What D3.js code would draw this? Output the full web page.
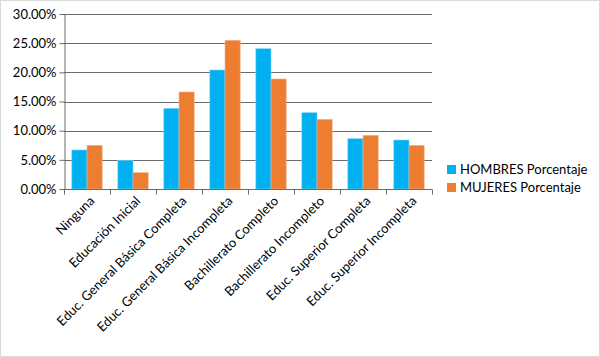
<!DOCTYPE html>
<html><head><meta charset="utf-8">
<script src="https://cdn.jsdelivr.net/npm/d3@7"></script>
<style>body{margin:0;background:#fff}svg{display:block}</style>
</head><body>
<script>
const categories = ["Ninguna","Educación Inicial","Educ. General Básica Completa","Educ. General Básica Incompleta","Bachillerato Completo","Bachillerato Incompleto","Educ. Superior Completa","Educ. Superior Incompleta"];
const hombres = [0.0669,0.0491,0.1383,0.2040,0.2405,0.1308,0.0863,0.0840];
const mujeres = [0.0749,0.0280,0.1663,0.2549,0.1886,0.1194,0.0920,0.0749];
const seriesNames = ["HOMBRES Porcentaje","MUJERES Porcentaje"];
const colors = ["#00B0F0","#ED7D31"];
const yTicks = [0,0.05,0.10,0.15,0.20,0.25,0.30];

const W=600,H=357;
const m={left:64,right:168,top:14,bottom:168};
const font="Lato, 'Open Sans', sans-serif";
const svg=d3.select("body").append("svg").attr("width",W).attr("height",H);
svg.append("rect").attr("x",0.5).attr("y",0.5).attr("width",W-1).attr("height",H-1).attr("fill","#fff").attr("stroke","#D9D9D9");

const x=d3.scaleBand().domain(categories).range([m.left,W-m.right]).paddingInner(0).paddingOuter(0);
const y=d3.scaleLinear().domain([0,0.30]).range([H-m.bottom,m.top]);
const xs=d3.scaleBand().domain([0,1]).range([0,x.bandwidth()]).paddingInner(0).paddingOuter(0.5);
xs.range([x.bandwidth()*0.17,x.bandwidth()*0.83]).paddingOuter(0);

// gridlines
svg.append("g").selectAll("line").data(yTicks.slice(1)).join("line")
 .attr("x1",m.left).attr("x2",W-m.right).attr("y1",d=>Math.round(y(d))+0.5).attr("y2",d=>Math.round(y(d))+0.5)
 .attr("stroke","#6b6b6b").attr("stroke-width",1);

// bars
const groups=svg.append("g").selectAll("g").data(categories).join("g").attr("transform",d=>`translate(${x(d)},0)`);
groups.selectAll("rect").data((d,i)=>[hombres[i],mujeres[i]]).join("rect")
 .attr("x",(d,j)=>xs(j)).attr("width",xs.bandwidth())
 .attr("y",d=>y(d)).attr("height",d=>y(0)-y(d))
 .attr("fill",(d,j)=>colors[j]).attr("stroke",(d,j)=>j?"#F5B48A":"#7DD6F7").attr("stroke-width",0.6);

// y axis
const ya=svg.append("g").attr("transform",`translate(${m.left}.5,0)`)
 .call(d3.axisLeft(y).tickValues(yTicks).tickFormat(d=>(d*100).toFixed(2)+"%").tickSize(5).tickSizeOuter(0));
ya.selectAll("path,line").attr("stroke","#6b6b6b");
ya.selectAll("text").attr("font-family",font).attr("font-size",13).attr("fill","#000").attr("x",-8);

// x axis
const xa=svg.append("g").attr("transform",`translate(0,${Math.round(y(0))+0.5})`);
xa.append("line").attr("x1",m.left).attr("x2",W-m.right).attr("stroke","#6b6b6b");
const bounds=categories.map(c=>x(c)).concat([x(categories[categories.length-1])+x.bandwidth()]);
xa.selectAll("line.t").data(bounds).join("line").attr("class","t")
 .attr("x1",d=>Math.round(d)+0.5).attr("x2",d=>Math.round(d)+0.5).attr("y1",0).attr("y2",5).attr("stroke","#6b6b6b");
xa.selectAll("text").data(categories).join("text")
 .attr("transform",d=>`translate(${x(d)+x.bandwidth()/2+5},9) rotate(-45)`)
 .attr("text-anchor","end").attr("dy","0.35em")
 .attr("font-family",font).attr("font-size",13).attr("fill","#000").text(d=>d);

// legend
const lg=svg.append("g").attr("transform","translate(447,165)");
seriesNames.forEach((s,i)=>{
  lg.append("rect").attr("x",0).attr("y",i*18).attr("width",9).attr("height",9).attr("fill",colors[i]);
  lg.append("text").attr("x",13).attr("y",i*18+4.5).attr("dy","0.35em").attr("font-family",font).attr("font-size",13).attr("fill","#000").text(s);
});
</script>
</body></html>
